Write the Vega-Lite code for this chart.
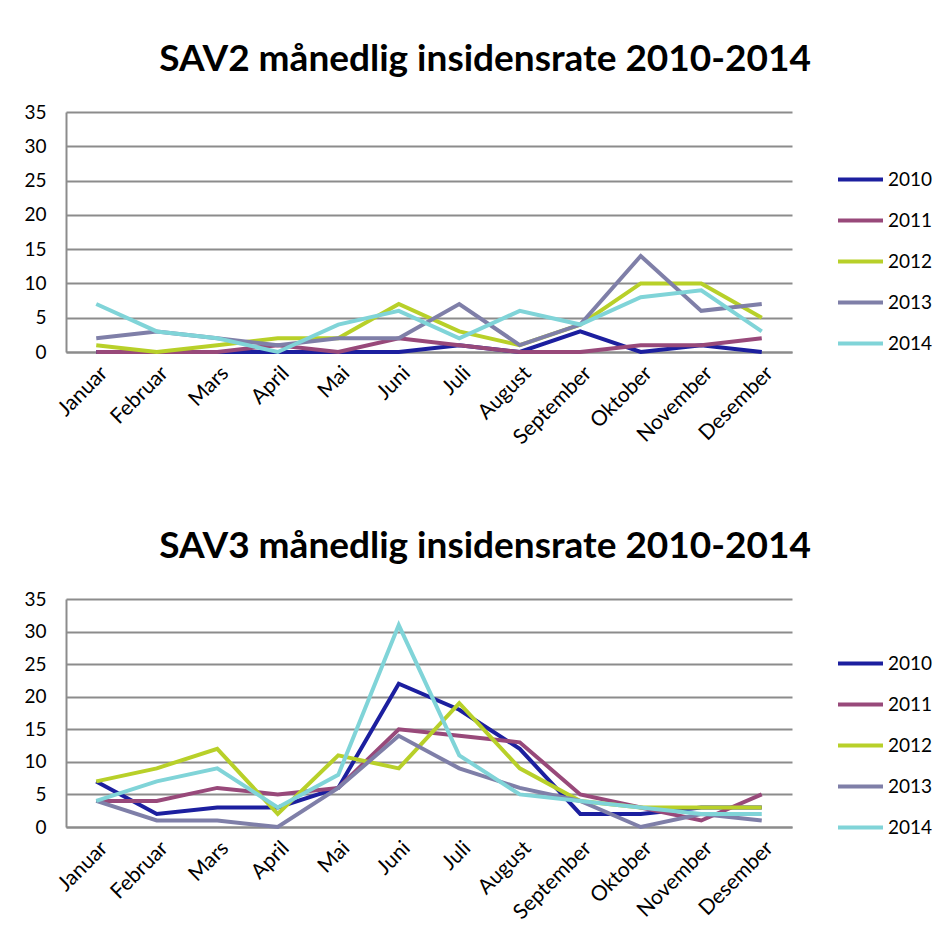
{
  "$schema": "https://vega.github.io/schema/vega-lite/v6.json",
  "background": "white",
  "padding": {"left": 23, "top": 41, "right": 0, "bottom": 0},
  "bounds": "flush",
  "spacing": 247,
  "datasets": {
    "sav2": [
      {"month": "Januar", "2010": 0, "2011": 0, "2012": 1, "2013": 2, "2014": 7},
      {"month": "Februar", "2010": 0, "2011": 0, "2012": 0, "2013": 3, "2014": 3},
      {"month": "Mars", "2010": 0, "2011": 0, "2012": 1, "2013": 2, "2014": 2},
      {"month": "April", "2010": 0, "2011": 1, "2012": 2, "2013": 1, "2014": 0},
      {"month": "Mai", "2010": 0, "2011": 0, "2012": 2, "2013": 2, "2014": 4},
      {"month": "Juni", "2010": 0, "2011": 2, "2012": 7, "2013": 2, "2014": 6},
      {"month": "Juli", "2010": 1, "2011": 1, "2012": 3, "2013": 7, "2014": 2},
      {"month": "August", "2010": 0, "2011": 0, "2012": 1, "2013": 1, "2014": 6},
      {"month": "September", "2010": 3, "2011": 0, "2012": 4, "2013": 4, "2014": 4},
      {"month": "Oktober", "2010": 0, "2011": 1, "2012": 10, "2013": 14, "2014": 8},
      {"month": "November", "2010": 1, "2011": 1, "2012": 10, "2013": 6, "2014": 9},
      {"month": "Desember", "2010": 0, "2011": 2, "2012": 5, "2013": 7, "2014": 3}
    ],
    "sav3": [
      {"month": "Januar", "2010": 7, "2011": 4, "2012": 7, "2013": 4, "2014": 4},
      {"month": "Februar", "2010": 2, "2011": 4, "2012": 9, "2013": 1, "2014": 7},
      {"month": "Mars", "2010": 3, "2011": 6, "2012": 12, "2013": 1, "2014": 9},
      {"month": "April", "2010": 3, "2011": 5, "2012": 2, "2013": 0, "2014": 3},
      {"month": "Mai", "2010": 6, "2011": 6, "2012": 11, "2013": 6, "2014": 8},
      {"month": "Juni", "2010": 22, "2011": 15, "2012": 9, "2013": 14, "2014": 31},
      {"month": "Juli", "2010": 18, "2011": 14, "2012": 19, "2013": 9, "2014": 11},
      {"month": "August", "2010": 12, "2011": 13, "2012": 9, "2013": 6, "2014": 5},
      {"month": "September", "2010": 2, "2011": 5, "2012": 4, "2013": 4, "2014": 4},
      {"month": "Oktober", "2010": 2, "2011": 3, "2012": 3, "2013": 0, "2014": 3},
      {"month": "November", "2010": 3, "2011": 1, "2012": 3, "2013": 2, "2014": 2},
      {"month": "Desember", "2010": 3, "2011": 5, "2012": 3, "2013": 1, "2014": 2}
    ]
  },
  "config": {
    "font": "Lato",
    "view": {"stroke": null},
    "axis": {
      "labelFont": "Lato",
      "labelColor": "black",
      "domainColor": "#8c8c8c",
      "domainWidth": 2,
      "gridColor": "#8c8c8c",
      "gridWidth": 2,
      "ticks": false,
      "title": null
    },
    "title": {"font": "Lato", "fontSize": 37, "fontWeight": "bold", "color": "black", "offset": 24, "dx": 56},
    "legend": {
      "orient": "none",
      "title": null,
      "labelFont": "Lato",
      "labelFontSize": 19,
      "labelColor": "black",
      "symbolType": "stroke",
      "symbolSize": 2025,
      "symbolStrokeWidth": 4,
      "rowPadding": 6,
      "labelOffset": 3
    },
    "line": {"strokeWidth": 4}
  },
  "resolve": {"scale": {"color": "independent", "y": "independent", "x": "independent"}, "legend": {"color": "independent"}},
  "vconcat": [
    {
      "title": "SAV2 månedlig insidensrate 2010-2014",
      "width": 726,
      "height": 240,
      "data": {"name": "sav2"},
      "transform": [{"fold": ["2010", "2011", "2012", "2013", "2014"], "as": ["year", "v"]}],
      "mark": "line",
      "encoding": {
        "x": {
          "field": "month", "type": "nominal",
          "sort": ["Januar", "Februar", "Mars", "April", "Mai", "Juni", "Juli", "August", "September", "Oktober", "November", "Desember"],
          "axis": {"labelAngle": -45, "labelFontSize": 21, "labelPadding": 10, "grid": false}
        },
        "y": {
          "field": "v", "type": "quantitative",
          "scale": {"domain": [0, 35], "nice": false},
          "axis": {"values": [0, 5, 10, 15, 20, 25, 30, 35], "labelFontSize": 19, "labelPadding": 20, "grid": true}
        },
        "color": {
          "field": "year", "type": "nominal",
          "scale": {"domain": ["2010", "2011", "2012", "2013", "2014"], "range": ["#1c1f9f", "#98497a", "#b8d029", "#7f7fa8", "#80d4d8"]},
          "legend": {"legendX": 770, "legendY": 43}
        }
      }
    },
    {
      "title": "SAV3 månedlig insidensrate 2010-2014",
      "width": 726,
      "height": 228,
      "data": {"name": "sav3"},
      "transform": [{"fold": ["2010", "2011", "2012", "2013", "2014"], "as": ["year", "v"]}],
      "mark": "line",
      "encoding": {
        "x": {
          "field": "month", "type": "nominal",
          "sort": ["Januar", "Februar", "Mars", "April", "Mai", "Juni", "Juli", "August", "September", "Oktober", "November", "Desember"],
          "axis": {"labelAngle": -45, "labelFontSize": 21, "labelPadding": 10, "grid": false}
        },
        "y": {
          "field": "v", "type": "quantitative",
          "scale": {"domain": [0, 35], "nice": false},
          "axis": {"values": [0, 5, 10, 15, 20, 25, 30, 35], "labelFontSize": 19, "labelPadding": 20, "grid": true}
        },
        "color": {
          "field": "year", "type": "nominal",
          "scale": {"domain": ["2010", "2011", "2012", "2013", "2014"], "range": ["#1c1f9f", "#98497a", "#b8d029", "#7f7fa8", "#80d4d8"]},
          "legend": {"legendX": 770, "legendY": 40}
        }
      }
    }
  ]
}
